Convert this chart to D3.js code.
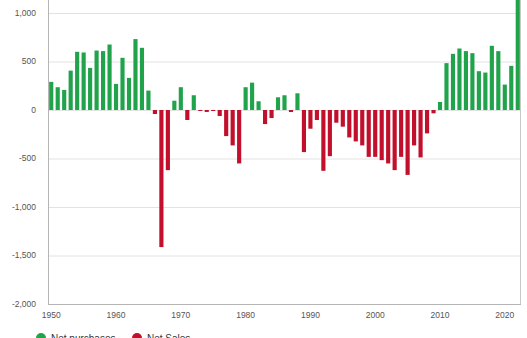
<!DOCTYPE html>
<html><head><meta charset="utf-8">
<script src="https://cdn.jsdelivr.net/npm/d3@7"></script>
<style>body{margin:0;background:#fff;}svg{display:block;font-family:"Liberation Sans",Arial,sans-serif;}</style>
</head><body>
<svg id="c" width="527" height="338"></svg>
<script>
const years = d3.range(1950, 2023);
const values = [290,235,207,406,600,593,434,613,607,675,
  269,538,331,731,641,200,-41,-1413,-620,96,
  235,-103,152,-10,-20,-10,-62,-269,-365,-551,
  235,282,90,-145,-83,131,152,-21,172,-434,
  -193,-103,-627,-476,-131,-172,-283,-324,-365,-483,
  -483,-517,-551,-620,-483,-669,-365,-489,-241,-34,
  83,483,579,634,607,586,400,386,662,607,
  262,455,1600];
const yTicks = [1000,500,0,-500,-1000,-1500,-2000];
const xTicks = [1950,1960,1970,1980,1990,2000,2010,2020];
const seriesNames = ["Net purchases","Net Sales"];
const colors = ["#20a34b","#c20f2b"];

const svg = d3.select("#c");
const left = 48, right = 521, zeroY = 110, bottom = 304;
const y = d3.scaleLinear().domain([-2000, 0]).range([bottom, zeroY]);
const x = d3.scaleBand().domain(years).range([left, right]).paddingInner(0.36).paddingOuter(0.18);

// grid
svg.append("g").selectAll("line").data(yTicks.filter(d=>d!==-2000)).join("line")
  .attr("x1", left).attr("x2", 520).attr("y1", d=>y(d)+0.5).attr("y2", d=>y(d)+0.5)
  .attr("stroke", "#e2e2e2").attr("stroke-width", 1);

// bars
svg.append("g").selectAll("rect").data(years.map((yr,i)=>({yr, v: values[i]}))).join("rect")
  .attr("x", d=>x(d.yr)).attr("width", x.bandwidth())
  .attr("y", d=>Math.min(y(d.v), y(0)))
  .attr("height", d=>Math.max(1, Math.abs(y(d.v)-y(0))))
  .attr("fill", d=>d.v>=0?colors[0]:colors[1]);

// frame
svg.append("line").attr("x1",left+0.5).attr("x2",left+0.5).attr("y1",0).attr("y2",bottom).attr("stroke","#b5b5b5");
svg.append("line").attr("x1",520.5).attr("x2",520.5).attr("y1",0).attr("y2",bottom).attr("stroke","#c8c8c8");
svg.append("line").attr("x1",left).attr("x2",521).attr("y1",bottom+0.5).attr("y2",bottom+0.5).attr("stroke","#b5b5b5");

// y labels
const fmt = d3.format(",");
svg.append("g").selectAll("text").data(yTicks).join("text")
  .attr("x", 36).attr("y", d=>y(d)).attr("dy","0.35em")
  .attr("text-anchor","end").attr("font-size", 8.5).attr("fill","#555")
  .text(d=>fmt(d).replace("−","-"));

// x labels
svg.append("g").selectAll("text").data(xTicks).join("text")
  .attr("x", d=>x(d)+x.bandwidth()/2).attr("y", 318)
  .attr("text-anchor","middle").attr("font-size", 8.5).attr("fill","#555")
  .text(d=>d);

// legend
const lg = svg.append("g");
const lx = [41, 137];
seriesNames.forEach((n,i)=>{
  lg.append("circle").attr("cx", lx[i]).attr("cy", 338).attr("r", 5).attr("fill", colors[i]);
  lg.append("text").attr("x", lx[i]+10).attr("y", 342).attr("font-size", 10).attr("fill","#333").text(n);
});
</script>
</body></html>
